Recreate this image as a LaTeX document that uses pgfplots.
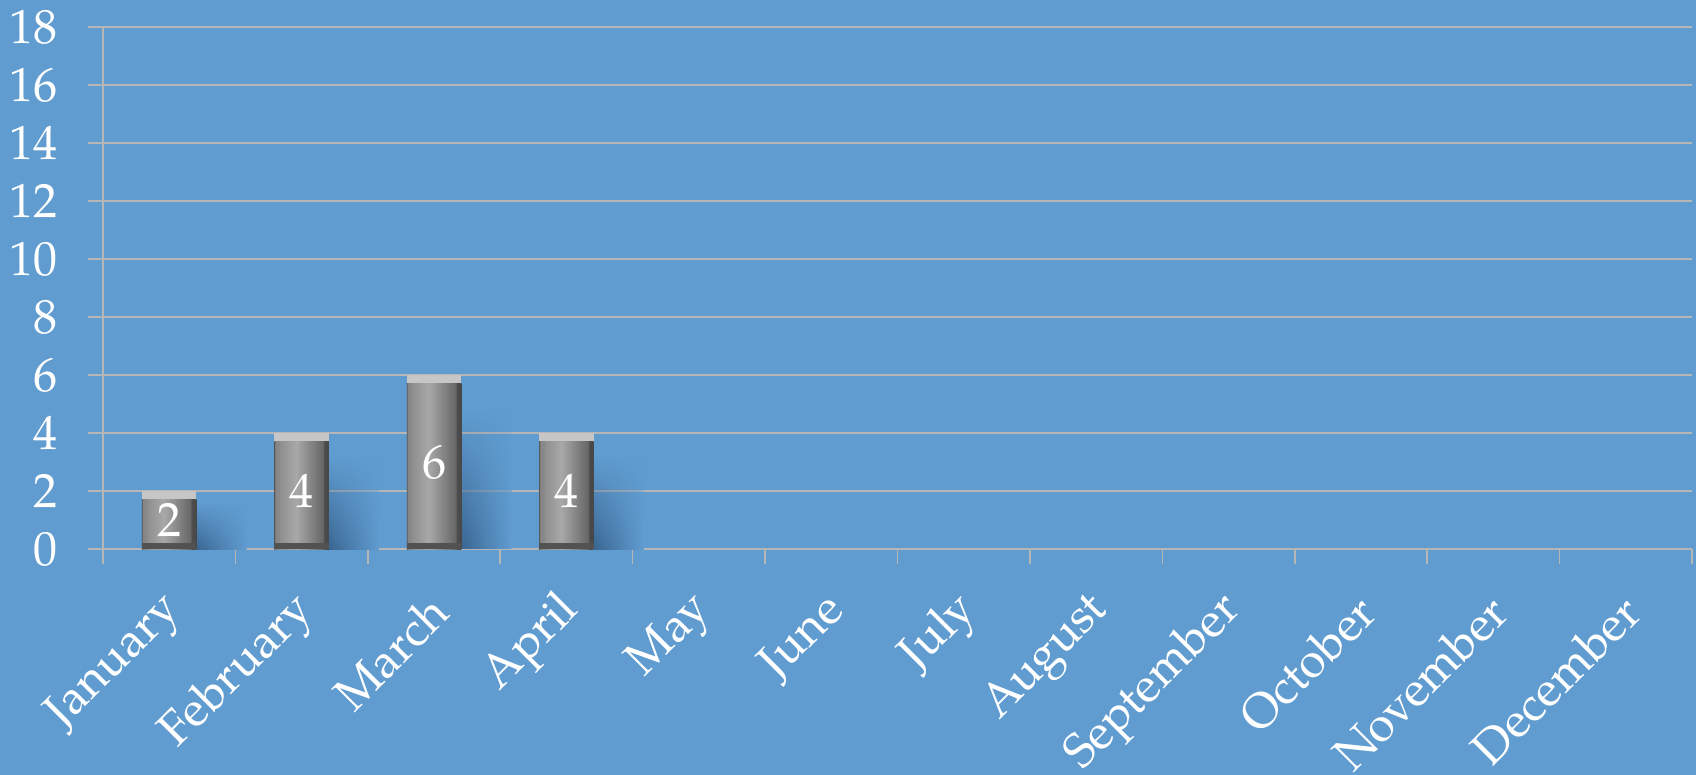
\documentclass[border=0pt]{standalone}
\usepackage{fontspec}
\setmainfont{texgyrepagella}[Extension=.otf, UprightFont=*-regular, BoldFont=*-bold, ItalicFont=*-italic, BoldItalicFont=*-bolditalic]
\usepackage{pgfplots}
\pgfplotsset{compat=1.18}
\usepackage{pgfplotstable}
\usetikzlibrary{fadings}
\definecolor{bg}{RGB}{96,156,208}
\definecolor{gridc}{RGB}{182,182,182}
\definecolor{shad}{RGB}{58,102,146}
\definecolor{bevT}{RGB}{198,198,198}
\tikzfading[name=shfade, top color=transparent!100, middle color=transparent!25, bottom color=transparent!0]
\pgfdeclarehorizontalshading{barshade}{100bp}{
 color(0bp)=(black!62);
 color(25bp)=(black!62);
 color(25.8bp)=(black!48);
 color(29.5bp)=(black!46);
 color(30bp)=(black!44);
 color(45bp)=(black!34);
 color(66bp)=(black!56);
 color(70bp)=(black!60);
 color(70.5bp)=(black!70);
 color(75bp)=(black!72);
 color(100bp)=(black!72)}
\pgfplotstableread{
x y
0 2
1 4
2 6
3 4
}\datatable
\begin{document}
\begin{tikzpicture}
\useasboundingbox (-51.5pt,-113pt) rectangle (796.5pt,274.5pt);
\fill[bg] (-51.5pt,-113pt) rectangle (796.5pt,274.5pt);
\begin{axis}[
 at={(0pt,0pt)}, anchor=south west,
 scale only axis, width=794.5pt, height=261pt,
 xmin=-0.5, xmax=11.5, ymin=0, ymax=18,
 axis x line*=bottom, axis y line*=left,
 axis line style={gridc, line width=0.8pt},
 ytick={0,2,...,18},
 ymajorgrids, grid style={gridc, line width=0.8pt},
 tick align=outside, major tick length=7.5pt, minor tick length=7.5pt,
 tick style={gridc, line width=0.8pt},
 xtick={0,...,11},
 xticklabels={January,February,March,April,May,June,July,August,September,October,November,December},
 major x tick style={draw=none},
 minor xtick={-0.5,0.5,...,11.5},
 /pgf/number format/assume math mode=true,
 yticklabel style={anchor=east, inner sep=0pt, xshift=-15pt, white, font=\fontsize{24}{28}\selectfont},
 xticklabel style={xshift=3pt, yshift=-19.8pt, rotate=45, anchor=east, inner sep=0pt, white, font=\fontsize{24}{28}\selectfont},
]
\pgfplotsinvokeforeach{0,1,2,3}{
\addplot[ybar, bar width=25pt, bar shift=26.1pt, draw=none, left color=shad, right color=bg, path fading=shfade, restrict x to domain=#1:#1]
 table[x=x, y expr=0.8*\thisrow{y}] {\datatable};
\addplot[ybar, bar width=27.25pt, bar shift=0pt, draw=none, fill=bevT, restrict x to domain=#1:#1]
 table[x=x, y=y] {\datatable};
\addplot[ybar, bar width=27.25pt, bar shift=0pt, draw=none, shading=barshade, restrict x to domain=#1:#1]
 table[x=x, y expr=\thisrow{y}-0.28] {\datatable};
\addplot[ybar, bar width=27.25pt, bar shift=0pt, draw=none, fill=black!68, restrict x to domain=#1:#1]
 table[x=x, y expr=0.2] {\datatable};
}
\addplot[draw=none, mark=none, nodes near coords, point meta=explicit,
 every node near coord/.append style={anchor=center, white, font=\fontsize{24}{28}\selectfont}]
 table[x=x, y expr=\thisrow{y}/2, meta=y] {\datatable};
\end{axis}
\end{tikzpicture}
\end{document}
